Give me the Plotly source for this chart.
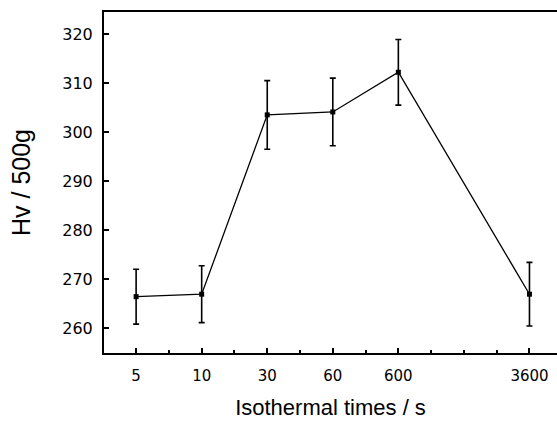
import plotly.graph_objects as go

times = ["5", "10", "30", "60", "600", "3600"]
xpos = [0, 1, 2, 3, 4, 6]
hv = [266.4, 266.9, 303.5, 304.1, 312.2, 266.9]
err = [5.6, 5.8, 7.0, 6.9, 6.7, 6.5]
yticks = [260, 270, 280, 290, 300, 310, 320]

fig = go.Figure()
fig.add_trace(go.Scatter(
    x=xpos, y=hv, mode="lines+markers",
    line=dict(color="black", width=1.3),
    marker=dict(symbol="square", size=5, color="black"),
    error_y=dict(type="data", array=err, visible=True, color="black",
                 thickness=1.6, width=3),
    showlegend=False,
))

font = "Liberation Sans, Arial, sans-serif"
tfont = "DejaVu Sans, sans-serif"
fig.update_layout(
    width=557, height=421,
    margin=dict(l=104, r=0, t=12, b=68),
    paper_bgcolor="white", plot_bgcolor="white",
    font=dict(family=font, color="black"),
    xaxis=dict(
        range=[-0.49, 6.42], tickvals=xpos, ticktext=times,
        showgrid=False, zeroline=False,
        showline=True, linecolor="black", linewidth=2, mirror=True,
        ticks="inside", ticklen=5, tickwidth=1.5, tickcolor="black",
        minor=dict(dtick=0.5, tick0=0, ticks="inside", ticklen=3,
                   tickwidth=1.5, tickcolor="black", showgrid=False),
        tickfont=dict(size=15, family=tfont, color="black"),
        ticklabelstandoff=8,
        title=dict(text="Isothermal times / s", font=dict(size=22, family=font),
                   standoff=16),
    ),
    yaxis=dict(
        range=[254.9, 324.5], tickvals=yticks,
        showgrid=False, zeroline=False,
        showline=True, linecolor="black", linewidth=2, mirror=False,
        ticks="inside", ticklen=5, tickwidth=1.5, tickcolor="black",
        tickfont=dict(size=16, family=tfont, color="black"),
        ticklabelstandoff=6,
        title=dict(text="Hv / 500g", font=dict(size=25, family=font),
                   standoff=25),
    ),
)

fig.write_html("out.html")
